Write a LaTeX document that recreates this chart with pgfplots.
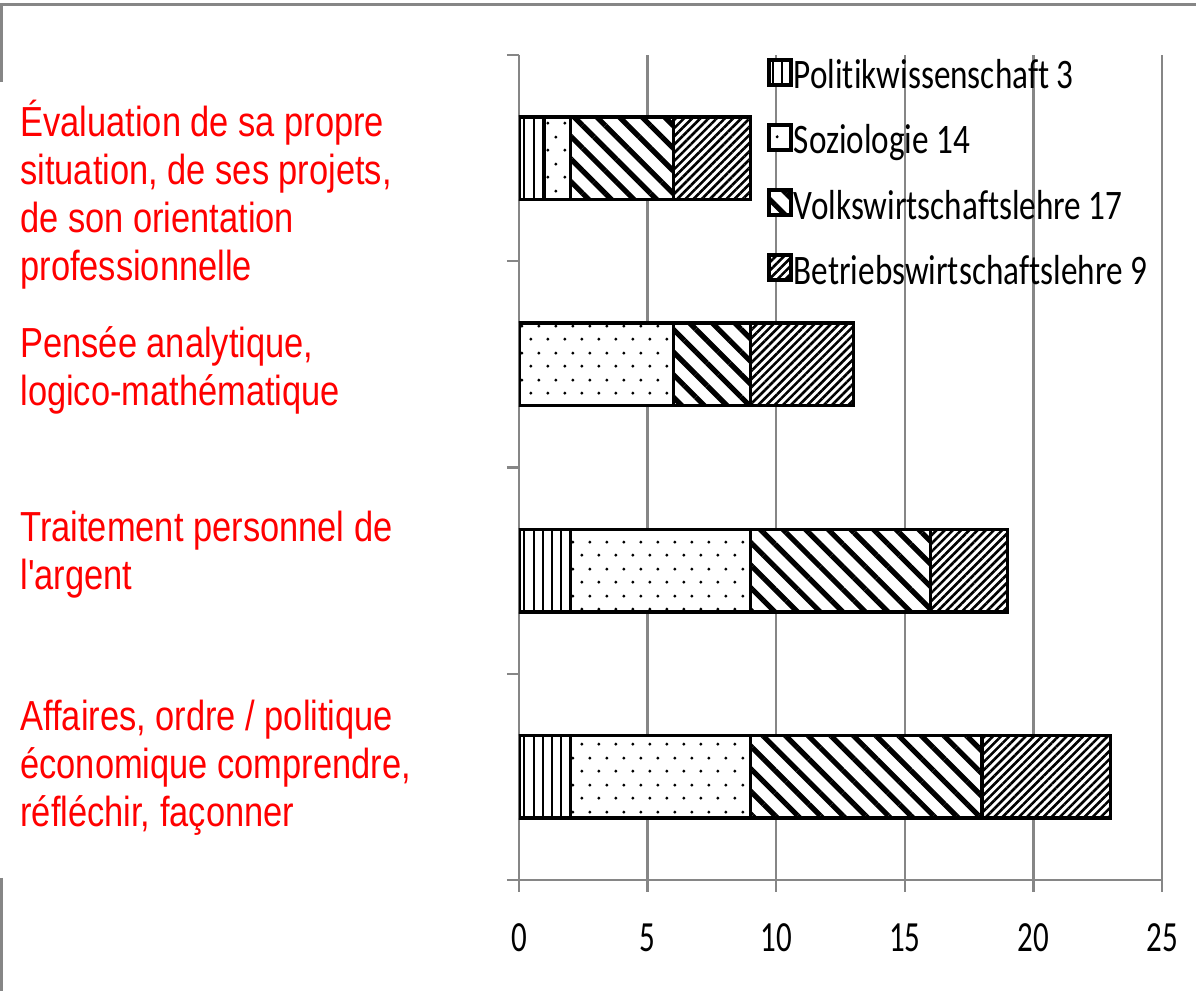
\documentclass[border=0pt]{standalone}
\usepackage{fontspec}
\usepackage{pgfplots}
\pgfplotsset{compat=1.18}
\usetikzlibrary{patterns,patterns.meta}
\setmainfont{Carlito}
\newfontfamily\redfont[FakeStretch=0.82]{Liberation Sans}
\newfontfamily\calfont[FakeStretch=0.79,Ligatures=NoCommon]{Carlito}
\newfontfamily\tickfont[FakeStretch=0.72]{Carlito}
\pgfdeclarepatternformonly{sparsedots}{\pgfpoint{0pt}{0pt}}{\pgfpoint{8.5pt}{13.5pt}}{\pgfpoint{8.5pt}{13.5pt}}{%
  \pgfpathcircle{\pgfpoint{2pt}{2pt}}{0.85pt}%
  \pgfpathcircle{\pgfpoint{6.25pt}{8.75pt}}{0.85pt}%
  \pgfusepath{fill}}
\definecolor{gridgray}{RGB}{134,134,134}
\begin{document}
\begin{tikzpicture}
\useasboundingbox (-259.5pt,-55.5pt) rectangle (338.5pt,440pt);
% outer frame remnants
\draw[gridgray, line width=1.5pt] (-258.5pt,399pt) -- (-258.5pt,437.5pt) -- (338.5pt,437.5pt);
\draw[gridgray, line width=1.5pt] (-258.5pt,1pt) -- (-258.5pt,-55.5pt);
\begin{axis}[
  at={(0,0)}, anchor=south west, scale only axis,
  width=321.5pt, height=412.5pt,
  xbar stacked, bar width=41.25pt,
  xmin=0, xmax=25, ymin=-0.5, ymax=3.5,
  xtick={0,5,10,15,20,25},
  xticklabels={0,5,10,15,20,25},
  ytick={-0.5,0.5,1.5,2.5,3.5}, yticklabels={},
  axis x line=bottom, axis y line=left,
  axis line style={-, gridgray, line width=1.2pt},
  xmajorgrids, grid style={gridgray, line width=1.2pt},
  tick style={gridgray, line width=1.2pt},
  tick align=outside, major tick length=6pt,
  xticklabel style={font=\tickfont\fontsize{21.5}{21.5}\selectfont, text=black, anchor=center, yshift=-23pt},
  legend style={draw=none, fill=none, at={(0.3857,0.9964)}, anchor=north west,
    inner sep=0pt, row sep=12.3pt,
    nodes={inner xsep=0.7pt, inner ysep=0pt, text height=15pt, text depth=5pt,
      font=\calfont\fontsize{21}{21}\selectfont}},
  legend cell align=left,
  legend image code/.code={\draw[#1, line width=1.5pt] (0pt,-3pt) rectangle (11pt,9.5pt);},
  every axis plot/.append style={draw=black, line width=1.7pt, preaction={fill=white}},
]
\addplot[pattern={Lines[angle=90,distance=4.6pt,line width=1pt]}]
  coordinates {(2,0) (2,1) (0,2) (1,3)};
\addlegendentry{Politikwissenschaft 3}
\addplot[pattern=sparsedots]
  coordinates {(7,0) (7,1) (6,2) (1,3)};
\addlegendentry{Soziologie 14}
\addplot[pattern={Lines[angle=-45,distance=8pt,line width=2.6pt]}]
  coordinates {(9,0) (7,1) (3,2) (4,3)};
\addlegendentry{Volkswirtschaftslehre 17}
\addplot[pattern={Lines[angle=45,distance=2.9pt,line width=1.3pt]}]
  coordinates {(5,0) (3,1) (4,2) (3,3)};
\addlegendentry{Betriebswirtschaftslehre 9}
\end{axis}
\begin{scope}[every node/.style={anchor=base west, inner sep=0pt, text=red, font=\redfont\fontsize{21}{24}\selectfont}]
\node at (-249.5pt,371.5pt) {Évaluation de sa propre};
\node at (-249.5pt,347.5pt) {situation, de ses projets,};
\node at (-249.5pt,323.5pt) {de son orientation};
\node at (-249.5pt,299.5pt) {professionnelle};
\node at (-249.5pt,261pt) {Pensée analytique,};
\node at (-249.5pt,237pt) {logico-mathématique};
\node at (-249.5pt,169pt) {Traitement personnel de};
\node at (-249.5pt,145pt) {l'argent};
\node at (-249.5pt,74.5pt) {Affaires, ordre / politique};
\node at (-249.5pt,50.5pt) {économique comprendre,};
\node at (-249.5pt,26.5pt) {réfléchir, façonner};
\end{scope}
\end{tikzpicture}
\end{document}
